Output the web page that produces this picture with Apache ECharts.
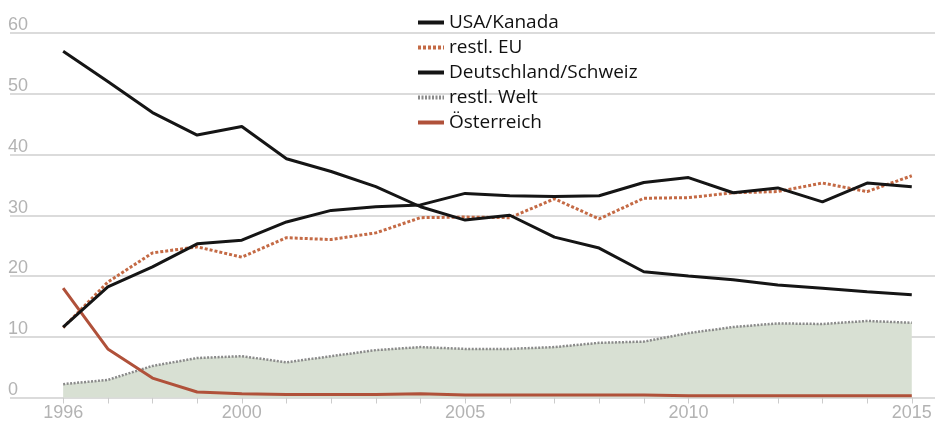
<!DOCTYPE html>
<html>
<head>
<meta charset="utf-8">
<script src="https://cdn.jsdelivr.net/npm/echarts@6/dist/echarts.min.js"></script>
<style>html,body{margin:0;padding:0;background:#fff;}#c{width:935px;height:431px;}</style>
</head>
<body>
<div id="c"></div>
<script>
var years = [1996,1997,1998,1999,2000,2001,2002,2003,2004,2005,2006,2007,2008,2009,2010,2011,2012,2013,2014,2015];
var usaKanada = [57,52,46.9,43.2,44.6,39.3,37.2,34.7,31.4,29.2,30.0,26.4,24.6,20.7,20.0,19.4,18.5,18.0,17.4,16.9];
var restlEU = [11.5,19,23.8,24.8,23.1,26.3,26.0,27.1,29.6,29.7,29.6,32.7,29.4,32.8,32.9,33.7,33.9,35.3,33.9,36.5];
var deutschlandSchweiz = [11.6,18.2,21.5,25.3,25.9,28.9,30.8,31.4,31.7,33.6,33.2,33.1,33.2,35.4,36.2,33.7,34.5,32.2,35.3,34.7];
var restlWelt = [2.2,2.9,5.2,6.5,6.8,5.8,6.8,7.8,8.3,8.0,8.0,8.3,9.0,9.2,10.6,11.6,12.2,12.1,12.6,12.3];
var oesterreich = [18.0,8.0,3.2,0.9,0.6,0.5,0.5,0.5,0.6,0.4,0.4,0.4,0.4,0.4,0.3,0.3,0.3,0.3,0.3,0.3];
var yTicks = [0,10,20,30,40,50,60];
var xLabels = [1996,2000,2005,2010,2015];

function pairs(v){ return years.map(function(y,i){ return [y, v[i]]; }); }

var chart = echarts.init(document.getElementById('c'), null, {renderer:'canvas'});
var axisFont = {color:'#b3b3b3', fontSize:18, fontFamily:'Liberation Sans, Arial, sans-serif'};
chart.setOption({
  animation:false,
  backgroundColor:'#fff',
  grid:{left:10, right:0, top:33, bottom:33.5},
  legend:{
    orient:'vertical', left:414, top:8, itemWidth:26, itemHeight:14, itemGap:6,
    padding:[5,5,5,2],
    itemStyle:{opacity:0, borderWidth:0},
    lineStyle:{width:4},
    textStyle:{color:'#111', fontSize:19, fontFamily:'Open Sans, Noto Sans, sans-serif'},
    data:['USA/Kanada','restl. EU','Deutschland/Schweiz','restl. Welt','Österreich']
  },
  xAxis:{
    type:'value', min:1994.81, max:2015.52,
    splitLine:{show:false},
    axisLine:{show:false},
    axisTick:{show:true, customValues:years, length:6, lineStyle:{color:'#cccccc'}},
    axisLabel:Object.assign({customValues:xLabels, margin:7, formatter:function(v){return String(v);}}, axisFont)
  },
  yAxis:{
    type:'value', min:0, max:60, interval:10,
    axisLine:{show:false}, axisTick:{show:false},
    splitLine:{lineStyle:{color:'#cfcfcf', width:1.5}},
    axisLabel:Object.assign({inside:true, align:'left', verticalAlign:'bottom', margin:-2, lineHeight:15,
      showMaxLabel:true, formatter:function(v){return yTicks.indexOf(v)>=0?String(v):'';}}, axisFont)
  },
  series:[
    {name:'restl. Welt', type:'line', data:pairs(restlWelt), symbol:'none', z:1,
     lineStyle:{color:'#8a8a8a', width:2.5, type:[2,1.5]}, itemStyle:{color:'#8a8a8a'},
     areaStyle:{color:'#d8e0d3', opacity:1}},
    {name:'Österreich', type:'line', data:pairs(oesterreich), symbol:'none', z:3,
     lineStyle:{color:'#b0513a', width:3}, itemStyle:{color:'#b0513a'}},
    {name:'restl. EU', type:'line', data:pairs(restlEU), symbol:'none', z:4,
     lineStyle:{color:'#c46a45', width:3, type:[3,2]}, itemStyle:{color:'#c46a45'}},
    {name:'Deutschland/Schweiz', type:'line', data:pairs(deutschlandSchweiz), symbol:'none', z:5,
     lineStyle:{color:'#151515', width:3}, itemStyle:{color:'#151515'}},
    {name:'USA/Kanada', type:'line', data:pairs(usaKanada), symbol:'none', z:6,
     lineStyle:{color:'#151515', width:3}, itemStyle:{color:'#151515'}}
  ]
});
</script>
</body>
</html>
